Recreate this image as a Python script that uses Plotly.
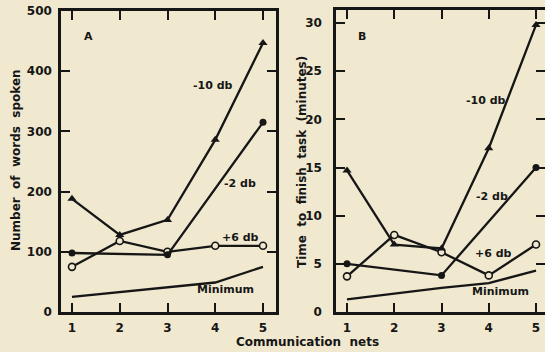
import plotly.graph_objects as go

# Communication nets on the x axis
nets = [1, 2, 3, 4, 5]

# Panel A: number of words spoken
words_m10 = [188, 128, 153, 286, 447]
words_m2 = [98, None, 95, None, 315]
words_p6 = [75, 118, 100, 110, 110]
words_min = [25, 33, 42, 49, 75]

# Panel B: time to finish task (minutes)
time_m10 = [14.7, 7.0, 6.6, 17.0, 29.8]
time_m2 = [5.0, None, 3.8, None, 15.0]
time_p6 = [3.7, 8.0, 6.2, 3.8, 7.0]
time_min = [1.3, 1.9, 2.5, 3.0, 4.3]

words_ticks = [0, 100, 200, 300, 400, 500]
time_ticks = [0, 5, 10, 15, 20, 25, 30]

BG = "#f0e9cf"
INK = "#161616"
FONT = "DejaVu Sans"

fig = go.Figure()


def add_series(xa, ya, m10, m2, p6, mn):
    common = dict(xaxis=xa, yaxis=ya, mode="lines+markers", showlegend=False,
                  line=dict(color=INK, width=2.3), connectgaps=True, cliponaxis=False)
    fig.add_trace(go.Scatter(x=nets, y=mn, **{**common, "mode": "lines"}))
    fig.add_trace(go.Scatter(x=nets, y=p6, marker=dict(symbol="circle", size=7, color=BG,
                                                       line=dict(color=INK, width=1.6)), **common))
    fig.add_trace(go.Scatter(x=nets, y=m2, marker=dict(symbol="circle", size=7, color=INK), **common))
    fig.add_trace(go.Scatter(x=nets, y=m10, marker=dict(symbol="triangle-up", size=8, color=INK), **common))


add_series("x", "y", words_m10, words_m2, words_p6, words_min)
add_series("x2", "y2", time_m10, time_m2, time_p6, time_min)

tickfont = dict(family=FONT, size=12, color=INK, weight="bold")
axis_common = dict(showline=True, linecolor=INK, linewidth=2.5, mirror="ticks",
                   ticks="inside", ticklen=9, tickwidth=2, tickcolor=INK,
                   showgrid=False, zeroline=False, tickfont=tickfont, automargin=False)

fig.update_layout(
    width=545, height=352,
    margin=dict(l=0, r=0, t=0, b=0, pad=0),
    paper_bgcolor=BG, plot_bgcolor=BG,
    xaxis=dict(domain=[61 / 545, 276 / 545], range=[0.77, 5.272], tickvals=nets,
               anchor="y", ticklabelstandoff=3, **axis_common),
    yaxis=dict(domain=[40 / 352, 341 / 352], range=[0, 500], tickvals=words_ticks,
               anchor="x", ticklabelstandoff=4, **axis_common),
    xaxis2=dict(domain=[336 / 545, 1.0], range=[0.767, 5.19], tickvals=nets,
                anchor="y2", ticklabelstandoff=3, **axis_common),
    yaxis2=dict(domain=[40 / 352, 342 / 352], range=[0, 31.35], tickvals=time_ticks,
                anchor="x2", ticklabelstandoff=9, **axis_common),
)

lab = dict(family=FONT, size=11, color=INK, weight="bold")
notes = [
    ("x", "y", 1.34, 457, "A"),
    ("x", "y", 3.95, 377, "-10 db"),
    ("x", "y", 4.52, 214, "-2 db"),
    ("x", "y", 4.52, 123, "+6 db"),
    ("x", "y", 4.22, 37, "Minimum"),
    ("x2", "y2", 1.32, 28.65, "B"),
    ("x2", "y2", 3.94, 22.0, "-10 db"),
    ("x2", "y2", 4.07, 11.94, "-2 db"),
    ("x2", "y2", 4.09, 6.12, "+6 db"),
    ("x2", "y2", 4.24, 2.08, "Minimum"),
]
for xr, yr, xv, yv, txt in notes:
    fig.add_annotation(xref=xr, yref=yr, x=xv, y=yv, text=txt, showarrow=False,
                       xanchor="center", yanchor="middle", font=lab)

title_font = dict(family=FONT, size=12, color=INK, weight="bold")
fig.add_annotation(xref="paper", yref="paper", x=16 / 545, y=(352 - 160) / 352,
                   xanchor="center", yanchor="middle",
                   text="Number  of  words  spoken", textangle=-90, showarrow=False,
                   font=title_font)
fig.add_annotation(xref="paper", yref="paper", x=302 / 545, y=(352 - 162) / 352,
                   xanchor="center", yanchor="middle",
                   text="Time  to  finish  task  (minutes)", textangle=-90, showarrow=False,
                   font=title_font)
fig.add_annotation(xref="paper", yref="paper", x=307 / 545, y=(352 - 342) / 352,
                   xanchor="center", yanchor="middle",
                   text="Communication  nets", showarrow=False, font=title_font)

fig.write_html("out.html")
